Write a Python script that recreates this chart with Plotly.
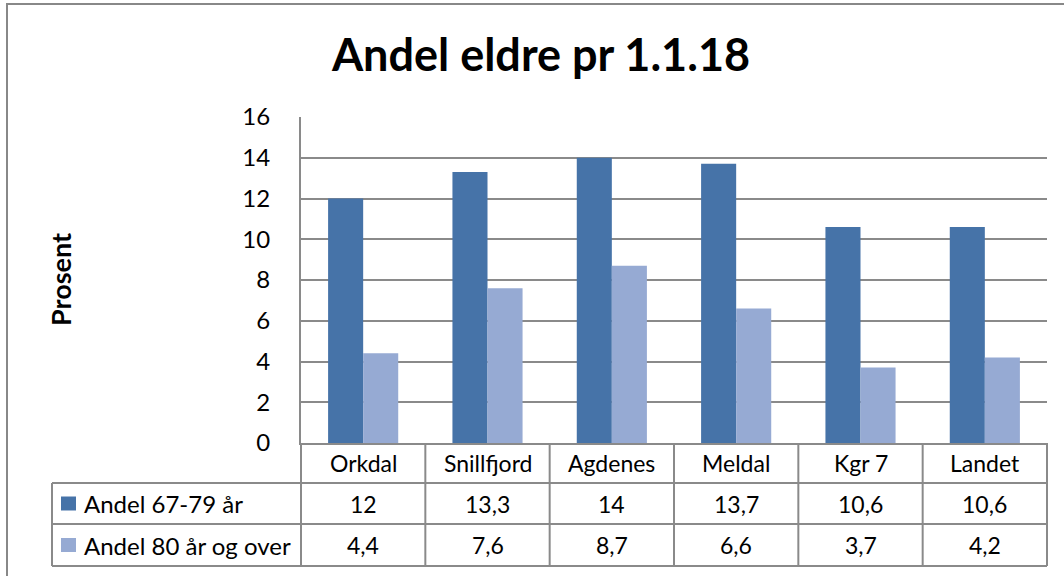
import plotly.graph_objects as go

categories = ["Orkdal", "Snillfjord", "Agdenes", "Meldal", "Kgr 7", "Landet"]
series_names = ["Andel 67-79 år", "Andel 80 år og over"]
values_6779 = [12, 13.3, 14, 13.7, 10.6, 10.6]
values_80 = [4.4, 7.6, 8.7, 6.6, 3.7, 4.2]
series_values = [values_6779, values_80]
series_colors = ["#4673A8", "#96AAD3"]
y_ticks = [0, 2, 4, 6, 8, 10, 12, 14, 16]
title_text = "Andel eldre pr 1.1.18"
y_title = "Prosent"

W, H = 1064, 576
L, R, T, B = 301, 17, 117, 133
PW, PH = W - L - R, H - T - B
FONT = "Lato, 'Open Sans', sans-serif"
GRID = "#8a8a8a"


def px(xp):
    return (xp - L) / PW


def py(yp):
    return (H - B - yp) / PH


def fmt(v):
    s = ("%g" % v)
    return s.replace(".", ",")


fig = go.Figure()
for name, vals, col in zip(series_names, series_values, series_colors):
    fig.add_trace(go.Bar(x=list(range(len(categories))), y=vals, name=name,
                         marker=dict(color=col, line=dict(width=0))))

shapes = []
annotations = []

# outer chart frame
shapes.append(dict(type="rect", xref="paper", yref="paper",
                   x0=px(7), x1=px(1075), y0=py(590), y1=py(4),
                   line=dict(color="#888888", width=2), fillcolor="rgba(0,0,0,0)", layer="below"))

# table geometry (pixel rows)
row_header = (443, 483)
row1 = (483, 524)
row2 = (524, 566)
label_left = 52

line_style = dict(color=GRID, width=2)
# horizontal table lines
for yl in [row1[0], row2[0], row2[1]]:
    shapes.append(dict(type="line", xref="paper", yref="paper",
                       x0=px(label_left), x1=1.0, y0=py(yl), y1=py(yl), line=line_style))
# left edge of legend column
shapes.append(dict(type="line", xref="paper", yref="paper",
                   x0=px(label_left), x1=px(label_left), y0=py(row1[0]), y1=py(row2[1]), line=line_style))
# left & right edges of data columns
for xe in [0.0, 1.0]:
    shapes.append(dict(type="line", xref="paper", yref="paper",
                       x0=xe, x1=xe, y0=py(row_header[0]), y1=py(row2[1]), line=line_style))
# category boundaries
for i in range(1, len(categories)):
    shapes.append(dict(type="line", xref="x", yref="paper",
                       x0=i - 0.5, x1=i - 0.5, y0=py(row_header[0]), y1=py(row2[1]), line=line_style))

tfont = dict(family=FONT, size=23, color="#000000")

def mid(r):
    return py((r[0] + r[1]) / 2)

for i, c in enumerate(categories):
    annotations.append(dict(x=i, y=mid(row_header), xref="x", yref="paper", text=c,
                            showarrow=False, font=tfont, xanchor="center", yanchor="middle"))
for r, vals in [(row1, values_6779), (row2, values_80)]:
    for i, v in enumerate(vals):
        annotations.append(dict(x=i, y=mid(r), xref="x", yref="paper", text=fmt(v),
                                showarrow=False, font=tfont, xanchor="center", yanchor="middle"))

# legend keys + labels
for r, name, col in [(row1, series_names[0], series_colors[0]), (row2, series_names[1], series_colors[1])]:
    yc = (r[0] + r[1]) / 2
    shapes.append(dict(type="rect", xref="paper", yref="paper",
                       x0=px(61), x1=px(76), y0=py(yc + 7), y1=py(yc - 7),
                       line=dict(width=0), fillcolor=col))
    annotations.append(dict(x=px(82), y=py(yc), xref="paper", yref="paper", text=name,
                            showarrow=False, font=dict(family=FONT, size=24, color="#000"),
                            xanchor="left", yanchor="middle"))

# y axis title
annotations.append(dict(x=px(60), y=py(280), xref="paper", yref="paper", text="<b>%s</b>" % y_title,
                        showarrow=False, textangle=-90, font=dict(family=FONT, size=27, color="#000"),
                        xanchor="center", yanchor="middle"))

fig.update_layout(
    width=W, height=H,
    margin=dict(l=L, r=R, t=T, b=B, pad=0),
    paper_bgcolor="white", plot_bgcolor="white",
    barmode="group", bargap=0.436, bargroupgap=0,
    showlegend=False,
    title=dict(text="<b>%s</b>" % title_text, xref="container", x=541 / W, xanchor="center",
               yref="container", y=1 - 55 / H, yanchor="middle",
               font=dict(family=FONT, size=45, color="#000")),
    font=dict(family=FONT, color="#000"),
    xaxis=dict(range=[-0.5, len(categories) - 0.5], showticklabels=False, showgrid=False,
               zeroline=False, showline=True, linecolor=GRID, linewidth=2, ticks=""),
    yaxis=dict(range=[0, 16], tickvals=y_ticks, ticktext=[str(t) for t in y_ticks],
               showgrid=True, gridcolor=GRID, gridwidth=2, zeroline=False,
               showline=True, linecolor=GRID, linewidth=2, ticks="",
               ticklabelstandoff=24, tickfont=dict(family=FONT, size=24, color="#000")),
    shapes=shapes, annotations=annotations,
)

fig.write_html("out.html", config={"displayModeBar": False},
               post_script="document.body.style.margin='0';document.body.style.overflow='hidden';")
